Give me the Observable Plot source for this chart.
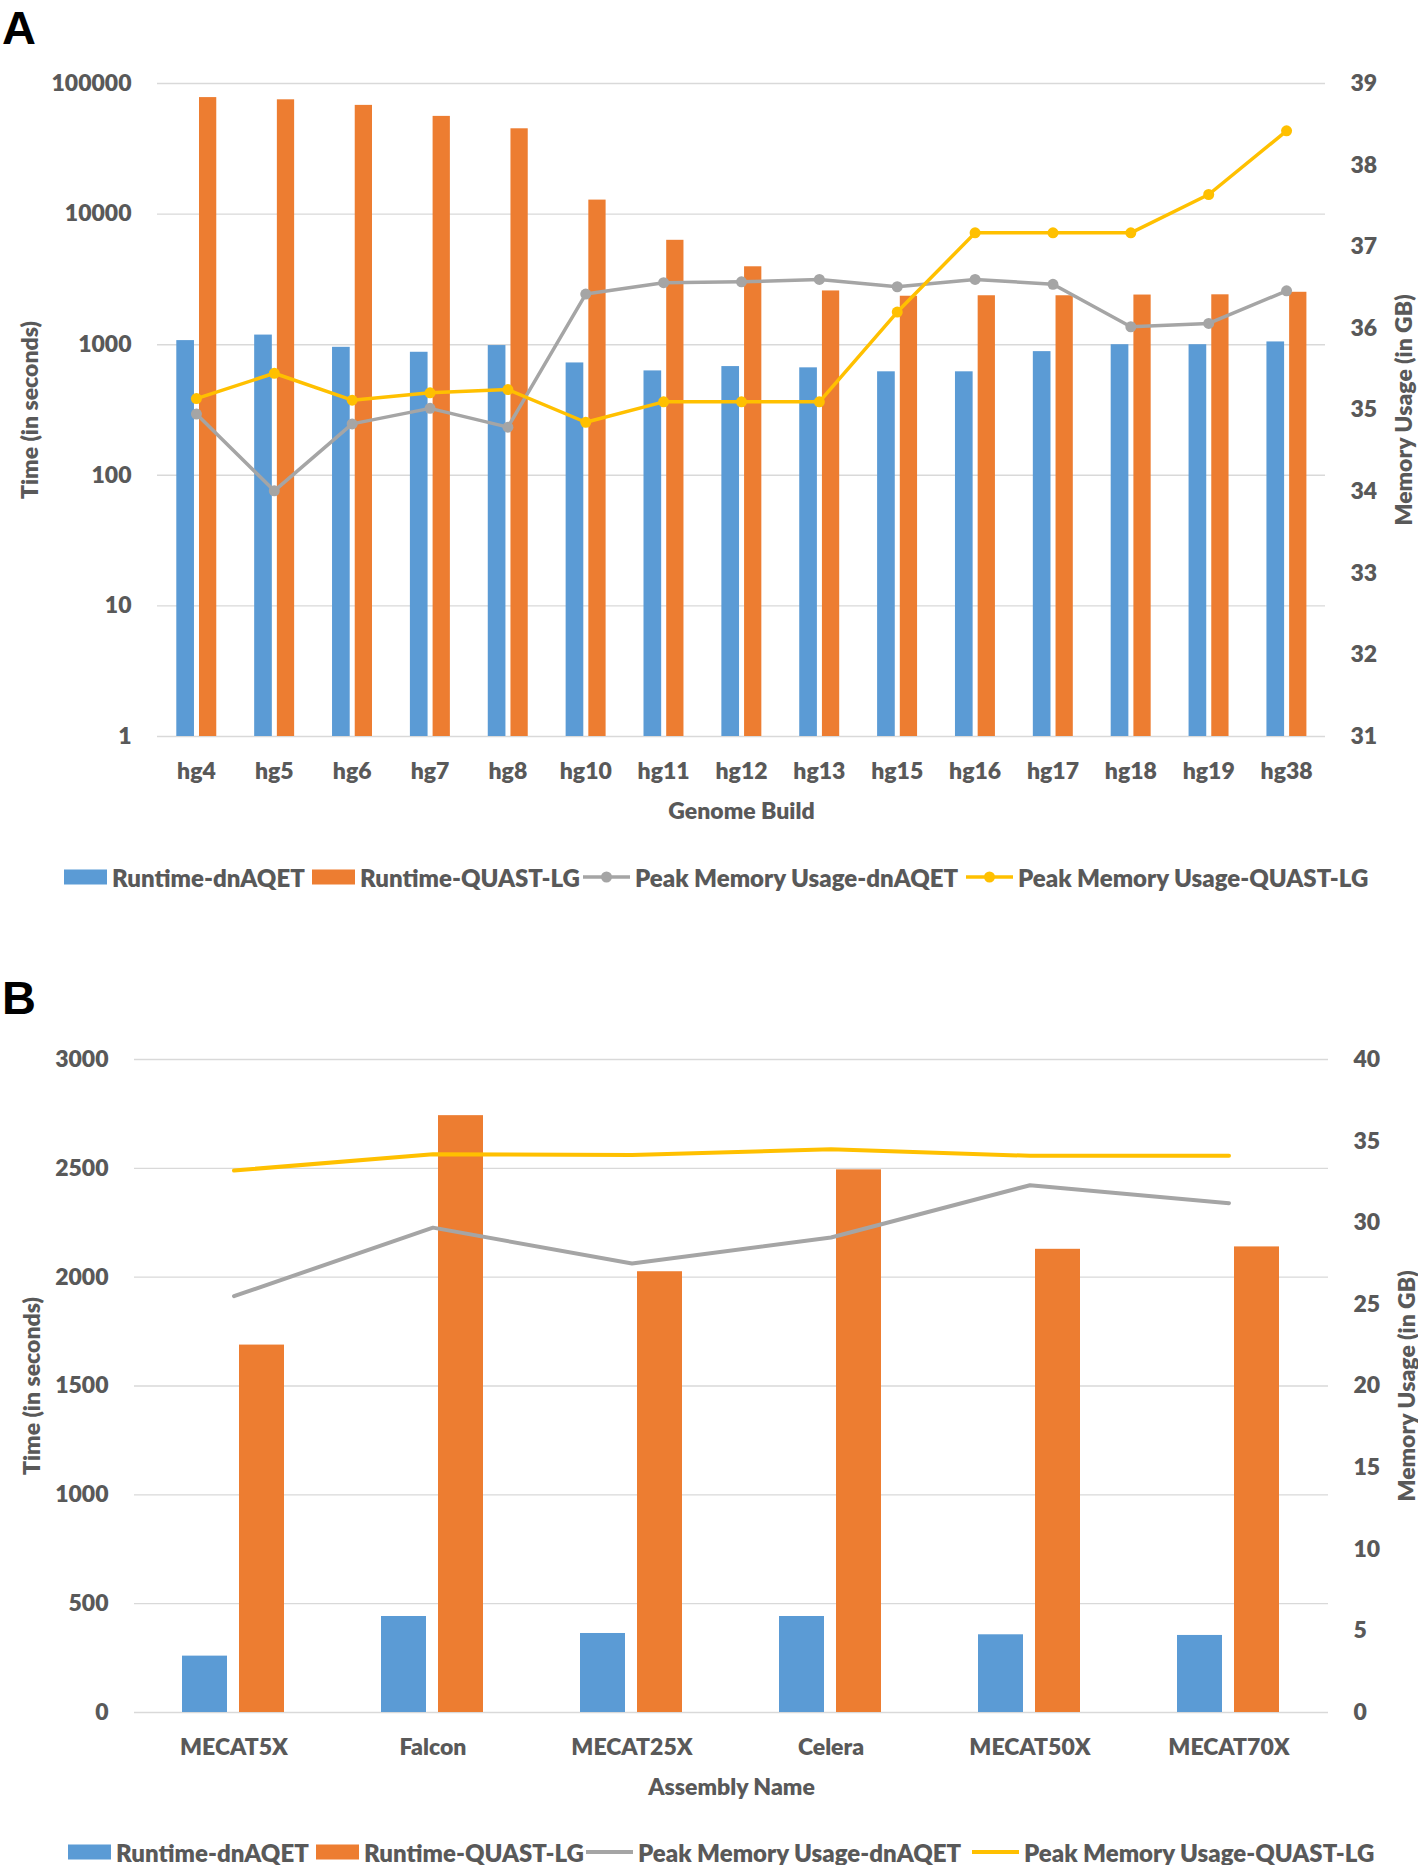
<!DOCTYPE html>
<html><head><meta charset="utf-8">
<script src="https://cdn.jsdelivr.net/npm/d3@7"></script>
<script src="https://cdn.jsdelivr.net/npm/@observablehq/plot@0.6"></script>
<style>
body{margin:0;background:#fff;}
#wrap{position:relative;width:1418px;height:1865px;overflow:hidden;background:#fff;font-family:Lato,"Open Sans",sans-serif;font-weight:800;color:#595959;}
.panel{position:absolute;left:0;width:1418px;}
.panel svg{position:absolute;left:0;top:0;}
.plab{position:absolute;left:2px;font-family:"Liberation Sans",Arial,sans-serif;font-weight:700;color:#000;font-size:47px;line-height:1.1;}
.legend{position:absolute;left:0;width:1418px;height:30px;font-size:24px;}
.item{position:absolute;top:0;height:30px;display:flex;align-items:center;white-space:nowrap;}
.item svg{margin-right:5px;flex:none;}
</style></head>
<body><div id="wrap"></div>
<script>
// ---------- data ----------
const seriesNames = ["Runtime-dnAQET", "Runtime-QUAST-LG", "Peak Memory Usage-dnAQET", "Peak Memory Usage-QUAST-LG"];

// Panel A
const genomeBuilds = ["hg4","hg5","hg6","hg7","hg8","hg10","hg11","hg12","hg13","hg15","hg16","hg17","hg18","hg19","hg38"];
const runtimeDnaqetA = [1075, 1185, 955, 875, 985, 725, 630, 680, 665, 620, 620, 885, 1000, 1000, 1050];
const runtimeQuastA = [78000, 75000, 68000, 56000, 45000, 12800, 6300, 3950, 2580, 2350, 2370, 2370, 2400, 2410, 2520];
const memDnaqetA = [34.95, 34.01, 34.83, 35.02, 34.79, 36.42, 36.56, 36.57, 36.60, 36.51, 36.60, 36.54, 36.02, 36.06, 36.46];
const memQuastA = [35.14, 35.45, 35.12, 35.21, 35.25, 34.85, 35.10, 35.10, 35.10, 36.20, 37.17, 37.17, 37.17, 37.64, 38.42];
const timeTicksA = [1, 10, 100, 1000, 10000, 100000];
const memTicksA = [31, 32, 33, 34, 35, 36, 37, 38, 39];

// Panel B
const assemblies = ["MECAT5X","Falcon","MECAT25X","Celera","MECAT50X","MECAT70X"];
const runtimeDnaqetB = [259, 441, 363, 441, 357, 354];
const runtimeQuastB = [1688, 2742, 2025, 2493, 2128, 2139];
const memDnaqetB = [25.5, 29.7, 27.5, 29.1, 32.3, 31.2];
const memQuastB = [33.2, 34.2, 34.15, 34.5, 34.1, 34.1];
const timeTicksB = [0, 500, 1000, 1500, 2000, 2500, 3000];
const memTicksB = [0, 5, 10, 15, 20, 25, 30, 35, 40];

// ---------- styling ----------
const BLUE = "#5B9BD5", ORANGE = "#ED7D31", GRAY = "#A5A5A5", GOLD = "#FFC000";
const TEXT = "#595959", GRID = "#D9D9D9";
const FONT = "Lato, 'Open Sans', sans-serif";
const W = 1418;

const rows = (cats, vals) => cats.map((c, i) => ({cat: c, value: vals[i]}));

function panel(cfg) {
  const wrap = document.getElementById("wrap");
  const div = document.createElement("div");
  div.className = "panel";
  div.style.top = cfg.top + "px";
  div.style.height = cfg.height + "px";
  const style = {fontFamily: FONT, fontWeight: 800, fontSize: "23px", color: TEXT, background: "transparent", overflow: "visible"};
  const common = {width: W, height: cfg.height, marginTop: cfg.mt, marginBottom: cfg.mb, marginLeft: cfg.ml, marginRight: cfg.mr, style};
  const bw = (W - cfg.ml - cfg.mr) / cfg.cats.length;
  const [bl, br, ol, or] = cfg.insets.map(f => f * bw);

  const bars = Plot.plot({
    ...common,
    x: {type: "band", domain: cfg.cats, padding: 0, round: false},
    y: cfg.y,
    marks: [
      Plot.gridY(cfg.timeTicks, {stroke: GRID, strokeOpacity: 1, strokeWidth: 1.4}),
      Plot.barY(rows(cfg.cats, cfg.blue), {x: "cat", y1: cfg.base, y2: "value", fill: BLUE, insetLeft: bl, insetRight: br}),
      Plot.barY(rows(cfg.cats, cfg.orange), {x: "cat", y1: cfg.base, y2: "value", fill: ORANGE, insetLeft: ol, insetRight: or}),
      Plot.axisY({ticks: cfg.timeTicks, tickSize: 0, tickPadding: 26, tickFormat: d => String(d), fill: TEXT,
        label: "Time (in seconds)", labelAnchor: "center", labelOffset: cfg.leftLabelOffset, labelArrow: "none"}),
      Plot.axisX({tickSize: 0, tickPadding: 26, fill: TEXT,
        label: cfg.xLabel, labelAnchor: "center", labelOffset: cfg.bottomLabelOffset, labelArrow: "none"})
    ]
  });

  const lineMarks = [];
  [[cfg.gray, GRAY], [cfg.gold, GOLD]].forEach(([vals, color]) => {
    lineMarks.push(Plot.line(rows(cfg.cats, vals), {x: "cat", y: "value", stroke: color, strokeWidth: cfg.lineWidth}));
    if (cfg.dots) lineMarks.push(Plot.dot(rows(cfg.cats, vals), {x: "cat", y: "value", fill: color, r: 5.5}));
  });
  const lines = Plot.plot({
    ...common,
    x: {type: "band", domain: cfg.cats, padding: 0, round: false, axis: null},
    y: {type: "linear", domain: cfg.memDomain},
    marks: [
      ...lineMarks,
      Plot.axisY({anchor: "right", ticks: cfg.memTicks, tickSize: 0, tickPadding: 25, fill: TEXT,
        label: "Memory Usage (in GB)", labelAnchor: "center", labelOffset: cfg.rightLabelOffset, labelArrow: "none"})
    ]
  });
  lines.style.pointerEvents = "none";
  div.appendChild(bars);
  div.appendChild(lines);
  wrap.appendChild(div);

  // panel letter
  const lab = document.createElement("div");
  lab.className = "plab";
  lab.style.top = cfg.letterTop + "px";
  lab.textContent = cfg.letter;
  wrap.appendChild(lab);

  // legend
  const leg = document.createElement("div");
  leg.className = "legend";
  leg.style.top = (cfg.legendY - 15) + "px";
  const colors = [BLUE, ORANGE, GRAY, GOLD];
  seriesNames.forEach((name, i) => {
    const it = document.createElement("div");
    it.className = "item";
    it.style.left = cfg.legendX[i] + "px";
    let sw;
    if (i < 2) {
      sw = `<svg width="43" height="16"><rect x="0" y="0.5" width="43" height="15" fill="${colors[i]}"/></svg>`;
    } else {
      sw = `<svg width="47" height="16"><line x1="0" x2="47" y1="8" y2="8" stroke="${colors[i]}" stroke-width="${cfg.lineWidth}"/>` +
        (cfg.dots ? `<circle cx="23.5" cy="8" r="5.5" fill="${colors[i]}"/>` : "") + `</svg>`;
    }
    it.innerHTML = sw + `<span>${name}</span>`;
    leg.appendChild(it);
  });
  wrap.appendChild(leg);
}

panel({
  letter: "A", letterTop: 2, top: 0, height: 850, mt: 83, mb: 114, ml: 157, mr: 93,
  cats: genomeBuilds, blue: runtimeDnaqetA, orange: runtimeQuastA, gray: memDnaqetA, gold: memQuastA,
  y: {type: "log", domain: [1, 100000]}, base: 1, timeTicks: timeTicksA,
  memDomain: [31, 39], memTicks: memTicksA,
  insets: [19.3 / 77.87, 40.9 / 77.87, 42 / 77.87, 18.6 / 77.87],
  xLabel: "Genome Build", dots: true, lineWidth: 3.5,
  leftLabelOffset: 136, rightLabelOffset: 86, bottomLabelOffset: 82,
  legendY: 877, legendX: [64, 312, 583, 966]
});

panel({
  letter: "B", letterTop: 972, top: 980, height: 840, mt: 79, mb: 108, ml: 134, mr: 90,
  cats: assemblies, blue: runtimeDnaqetB, orange: runtimeQuastB, gray: memDnaqetB, gold: memQuastB,
  y: {type: "linear", domain: [0, 3000]}, base: 0, timeTicks: timeTicksB,
  memDomain: [0, 40], memTicks: memTicksB,
  insets: [48 / 199, 106 / 199, 105 / 199, 49 / 199],
  xLabel: "Assembly Name", dots: false, lineWidth: 4,
  leftLabelOffset: 111, rightLabelOffset: 86, bottomLabelOffset: 82,
  legendY: 1852, legendX: [68, 316, 586, 972]
});
</script>
</body></html>
